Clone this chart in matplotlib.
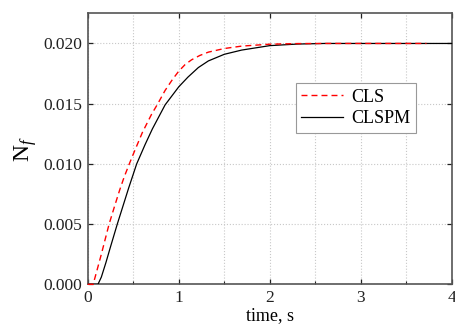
import matplotlib
matplotlib.use("Agg")
import matplotlib.pyplot as plt
from matplotlib.ticker import MultipleLocator, FormatStrFormatter

# CLS (dashed red)
t_cls = [0.0, 0.06, 0.10, 0.15, 0.235, 0.30, 0.35, 0.40, 0.457, 0.50, 0.60, 0.70,
         0.77, 0.85, 0.93, 1.00, 1.07, 1.14, 1.23, 1.325, 1.50, 1.69, 2.00, 2.30,
         2.60, 3.72]
n_cls = [0.0, 0.0, 0.0011, 0.0025, 0.0050, 0.0066, 0.0078, 0.0089, 0.0100, 0.0108,
         0.0126, 0.0141, 0.0150, 0.0161, 0.0170, 0.0177, 0.01825, 0.01864, 0.0190,
         0.01928, 0.01958, 0.01978, 0.01994, 0.01999, 0.0200, 0.0200]

# CLSPM (solid black)
t_clspm = [0.0, 0.113, 0.15, 0.20, 0.25, 0.325, 0.40, 0.45, 0.538, 0.63, 0.71, 0.85,
           0.94, 1.00, 1.10, 1.215, 1.325, 1.50, 1.69, 2.00, 2.30, 2.60, 4.00]
n_clspm = [0.0, 0.0, 0.0006, 0.0018, 0.0031, 0.0050, 0.0068, 0.0080, 0.0100, 0.0116,
           0.0129, 0.0149, 0.0158, 0.0164, 0.0172, 0.0180, 0.01855, 0.0191, 0.01945,
           0.01982, 0.01995, 0.0200, 0.0200]

plt.rcParams['font.family'] = ['Liberation Serif', 'DejaVu Serif']
plt.rcParams['mathtext.fontset'] = 'custom'
plt.rcParams['mathtext.rm'] = 'Liberation Serif'
plt.rcParams['mathtext.it'] = 'Liberation Serif:italic'

fig = plt.figure(figsize=(4.56, 3.34), dpi=100)
ax = fig.add_axes([0.1923, 0.1488, 0.7989, 0.8112])

ax.plot(t_clspm, n_clspm, color='black', lw=0.9, label='CLSPM', zorder=3)
ax.plot(t_cls, n_cls, color='red', lw=1.0, dashes=(4.3, 2.9), label='CLS',
        zorder=4, clip_on=False)

ax.set_xlim(0, 4)
ax.set_ylim(0, 0.0225)
ax.xaxis.set_major_locator(MultipleLocator(1))
ax.xaxis.set_minor_locator(MultipleLocator(0.5))
ax.yaxis.set_major_locator(MultipleLocator(0.005))
ax.yaxis.set_major_formatter(FormatStrFormatter('%.3f'))

ax.grid(True, which='both', axis='x', ls=':', color='#c8c8c8', lw=0.8)
ax.grid(True, which='major', axis='y', ls=':', color='#c8c8c8', lw=0.8)

ax.tick_params(which='major', direction='in', length=3.5, width=0.9,
               top=True, right=True, labelsize=12.5, colors='#222222', pad=4)
ax.tick_params(which='minor', direction='in', length=2, width=0.8,
               top=False, right=False, colors='#222222')
for s in ax.spines.values():
    s.set_color('#555555')
    s.set_linewidth(1.2)

ax.set_xlabel('time, s', fontsize=13, labelpad=1)
ax.set_ylabel(r'N$_{\mathit{f}}$', fontsize=17, labelpad=3)

handles, labels = ax.get_legend_handles_labels()
leg = ax.legend(handles[::-1], labels[::-1], loc='upper left',
                bbox_to_anchor=(0.571, 0.742), fontsize=13, frameon=True,
                fancybox=False, edgecolor='#999999', framealpha=1,
                handlelength=2.3, handletextpad=0.5, labelspacing=0.25,
                borderpad=0.3, borderaxespad=0)
leg.get_frame().set_linewidth(0.8)

fig.savefig('out.png', dpi=100)
